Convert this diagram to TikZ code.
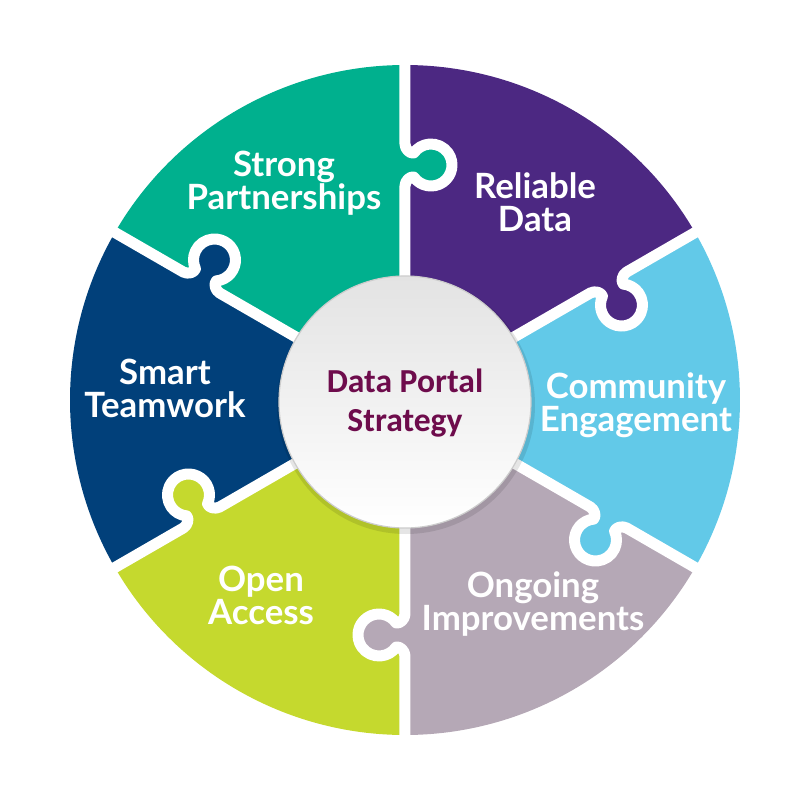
\documentclass[tikz,border=0pt]{standalone}
\usepackage{fontspec}
\usepackage{tikz}
\newfontfamily\labelfont{Lato}
\newfontfamily\hubfont{Carlito}

\definecolor{strgreen}{RGB}{0,176,142}
\definecolor{relpurple}{RGB}{76,40,130}
\definecolor{comcyan}{RGB}{98,201,232}
\definecolor{ongmauve}{RGB}{181,168,182}
\definecolor{opnlime}{RGB}{197,217,46}
\definecolor{smtnavy}{RGB}{1,64,122}
\definecolor{hubtext}{RGB}{110,12,76}

\tikzset{
  piece label/.style = {text=white, align=center, inner sep=0pt,
    font=\labelfont\bfseries\fontsize{17.4}{16.5}\selectfont},
  hub label/.style = {text=hubtext, align=center, inner sep=0pt,
    font=\hubfont\bfseries\fontsize{16.8}{19.5}\selectfont},
  gap/.style = {white, line width=5.5pt, line join=round}
}

\begin{document}
\begin{tikzpicture}[x=0.5pt, y=0.5pt]
\useasboundingbox (-405,-400) rectangle (395,400);

% the six pieces
\foreach \a/\c in {30/relpurple, 90/strgreen, 150/smtnavy, 210/opnlime, 270/ongmauve, 330/comcyan}
  \fill[\c] (0,0) -- (\a:335) arc[start angle=\a, delta angle=60, radius=335] -- cycle;

% tabs reaching into the next piece
\foreach \a/\c in {30/relpurple, 90/strgreen, 150/smtnavy, 210/opnlime, 270/ongmauve, 330/comcyan} {
  \begin{scope}[rotate=\a, yscale=-1]
    \fill[\c] (235,26) circle (21);
    \fill[\c] (223,-2) rectangle (247,10);
  \end{scope}
}

% white cuts
\foreach \a in {30,90,...,330}
  \draw[gap, rotate=\a, yscale=-1] (0,0) -- (214,0)
    .. controls (219,0) and (224,5) .. (222.95,8.8)
    arc[start angle=235, end angle=-55, radius=21]
    .. controls (246,5) and (251,0) .. (256,0) -- (345,0);

% centre disc
\fill[black, opacity=0.10] (1,-5) circle (129);
\shade[top color=gray!22, bottom color=white] (0,-2) circle (126);
\draw[gray!40, line width=0.6pt] (0,-2) circle (126);

\node[hub label] (hub) at (0,-3) {Data Portal\\Strategy};

\node[piece label] (partners) at (-121,217) {Strong\\Partnerships};
\node[piece label] (reliable) at (130,198) {Reliable\\Data};
\node[piece label] (community) at (231,-5) {Community\\Engagement};
\node[piece label] (ongoing) at (128,-204) {Ongoing\\Improvements};
\node[piece label] (access) at (-144,-195) {Open\\Access};
\node[piece label] (teamwork) at (-240,12) {Smart\\Teamwork};
\end{tikzpicture}
\end{document}
